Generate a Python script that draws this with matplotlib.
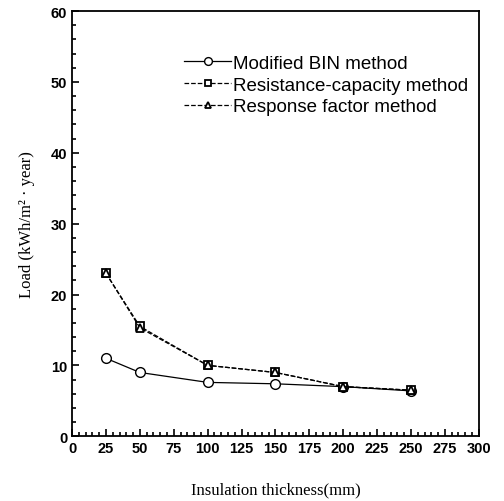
import matplotlib
matplotlib.use("Agg")
import matplotlib.pyplot as plt
from matplotlib.ticker import MultipleLocator

# data
thickness = [25, 50, 100, 150, 200, 250]
bin_load = [11.0, 9.0, 7.6, 7.4, 7.0, 6.4]
rc_load = [23.0, 15.5, 10.0, 9.0, 7.0, 6.5]
rf_load = [23.0, 15.3, 10.0, 9.0, 7.0, 6.5]

fig = plt.figure(figsize=(5.04, 5.02), dpi=100)
ax = fig.add_axes([0.143, 0.129, 0.807, 0.847])

ax.plot(thickness, bin_load, '-', color='black', lw=0.9, marker='o', ms=7,
        mfc='white', mec='black', mew=1.0, label='Modified BIN method')
ax.plot(thickness, rc_load, '--', color='black', lw=0.9, marker='s', ms=6,
        mfc='white', mec='black', mew=1.3, label='Resistance-capacity method')
ax.plot(thickness, rf_load, '--', color='black', lw=0.9, marker='^', ms=6,
        mfc='white', mec='black', mew=1.3, label='Response factor method')

ax.set_xlim(0, 300)
ax.set_ylim(0, 60)
ax.xaxis.set_major_locator(MultipleLocator(25))
ax.xaxis.set_minor_locator(MultipleLocator(5))
ax.yaxis.set_major_locator(MultipleLocator(10))
ax.yaxis.set_minor_locator(MultipleLocator(2))
ax.tick_params(which='both', direction='in', labelsize=10.5, width=1.2)
ax.tick_params(which='major', length=5)
ax.tick_params(which='minor', length=3)
for lbl in ax.get_xticklabels() + ax.get_yticklabels():
    lbl.set_fontweight('bold')
    lbl.set_family('Liberation Sans')
for s in ax.spines.values():
    s.set_linewidth(1.3)

ax.set_xlabel('Insulation thickness(mm)', family='Liberation Serif', fontsize=12, labelpad=19)
ax.set_ylabel('Load (kWh/m² · year)', family='Liberation Serif', fontsize=12, labelpad=11)

leg = ax.legend(loc='upper right', bbox_to_anchor=(1.015, 0.937), frameon=False,
                prop={'family': 'Liberation Sans', 'size': 13.5}, handlelength=2.5,
                handletextpad=0.1, labelspacing=0.25, markerscale=0.8)

fig.savefig('out.png', dpi=100)
